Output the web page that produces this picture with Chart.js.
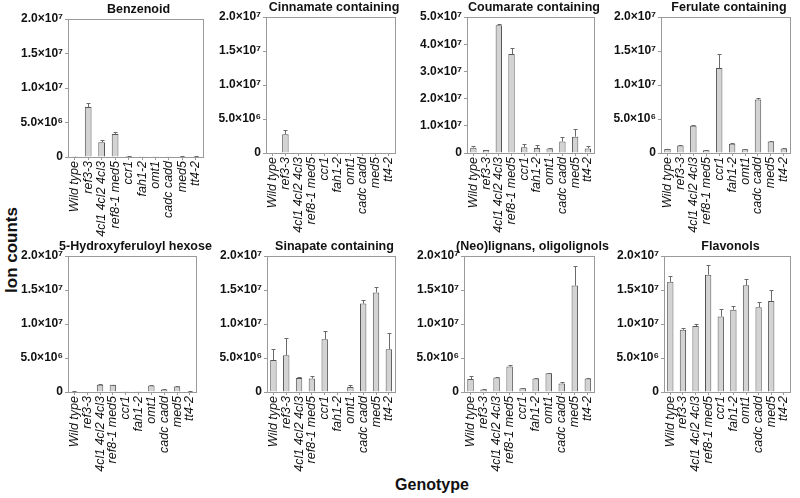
<!DOCTYPE html>
<html>
<head>
<meta charset="utf-8">
<script src="https://cdn.jsdelivr.net/npm/chart.js@4/dist/chart.umd.min.js"></script>
<style>
  html, body { margin: 0; padding: 0; background: #fff; }
  #wrap { position: relative; width: 800px; height: 498px; overflow: hidden; font-family: "Liberation Sans", Arial, sans-serif; }
  canvas { position: absolute; }
  .axt { position: absolute; font-weight: bold; color: #111; white-space: nowrap; }
  .ptitle { position: absolute; font-weight: bold; font-size: 12.5px; color: #111; white-space: nowrap; transform: translate(-50%, -50%); line-height: 1; }
</style>
</head>
<body>
<div id="wrap">
  <div class="axt" id="ylab" style="font-size:17px; left:12px; top:250px; transform: translate(-50%,-50%) rotate(-90deg);">Ion counts</div>
  <div class="axt" id="xlab" style="font-size:16px; left:432px; top:485px; transform: translate(-50%,-50%);">Genotype</div>
</div>
<script>
// ---- Data ----
const genotypes = ['Wild type', 'ref3-3', '4cl1 4cl2 4cl3', 'ref8-1 med5', 'ccr1', 'fah1-2', 'omt1', 'cadc cadd', 'med5', 'tt4-2'];

const panelTitles = ['Benzenoid', 'Cinnamate containing', 'Coumarate containing', 'Ferulate containing',
  '5-Hydroxyferuloyl hexose', 'Sinapate containing', '(Neo)lignans, oligolignols', 'Flavonols'];

const benzenoid      = [0.05e6, 7.25e6, 2.15e6, 3.35e6, 0.15e6, 0.05e6, 0.05e6, 0.05e6, 0.1e6, 0.1e6];
const benzenoidErr   = [0.02e6, 0.55e6, 0.3e6, 0.3e6, 0.05e6, 0, 0, 0, 0.05e6, 0.05e6];

const cinnamate      = [0, 2.75e6, 0, 0, 0, 0, 0, 0, 0, 0];
const cinnamateErr   = [0, 0.6e6, 0, 0, 0, 0, 0, 0, 0, 0];

const coumarate      = [1.95e6, 1.1e6, 47.0e6, 36.4e6, 2.1e6, 1.8e6, 1.7e6, 4.2e6, 6.0e6, 1.7e6];
const coumarateErr   = [0.7e6, 0.1e6, 0.5e6, 2.3e6, 1.2e6, 1.1e6, 0.25e6, 1.7e6, 2.7e6, 0.9e6];

const ferulate       = [0.6e6, 1.1e6, 4.0e6, 0.4e6, 12.5e6, 1.37e6, 0.55e6, 7.85e6, 1.7e6, 0.65e6];
const ferulateErr    = [0.05e6, 0.1e6, 0.15e6, 0.05e6, 2.0e6, 0.08e6, 0.05e6, 0.25e6, 0.08e6, 0.05e6];

const hydroxyferuloyl    = [0.1e6, 0, 1.07e6, 1.05e6, 0.05e6, 0.05e6, 0.95e6, 0.35e6, 0.8e6, 0.1e6];
const hydroxyferuloylErr = [0.02e6, 0, 0.05e6, 0.05e6, 0, 0, 0.05e6, 0.05e6, 0.1e6, 0.02e6];

const sinapate       = [4.7e6, 5.4e6, 2.06e6, 2.0e6, 7.75e6, 0, 0.73e6, 13.0e6, 14.65e6, 6.3e6];
const sinapateErr    = [1.6e6, 2.5e6, 0.1e6, 0.3e6, 1.25e6, 0, 0.27e6, 0.6e6, 0.75e6, 2.4e6];

const neolignans     = [1.9e6, 0.35e6, 2.15e6, 3.75e6, 0.55e6, 2.0e6, 2.75e6, 1.25e6, 15.65e6, 2.0e6];
const neolignansErr  = [0.5e6, 0.05e6, 0.1e6, 0.25e6, 0.05e6, 0.05e6, 0.05e6, 0.25e6, 2.95e6, 0.05e6];

const flavonols      = [16.2e6, 9.15e6, 9.7e6, 17.25e6, 11.1e6, 12.1e6, 15.7e6, 12.45e6, 13.4e6, 0];
const flavonolsErr   = [0.85e6, 0.25e6, 0.3e6, 1.45e6, 1.05e6, 0.6e6, 0.95e6, 0.75e6, 1.6e6, 0];

const yTickLabels20 = ['0', '5.0×10⁶', '1.0×10⁷', '1.5×10⁷', '2.0×10⁷'];
const yTickLabels50 = ['0', '1.0×10⁷', '2.0×10⁷', '3.0×10⁷', '4.0×10⁷', '5.0×10⁷'];
const yMax20 = 2.0e7, yStep20 = 5.0e6;
const yMax50 = 5.0e7, yStep50 = 1.0e7;

const panelValues = [benzenoid, cinnamate, coumarate, ferulate, hydroxyferuloyl, sinapate, neolignans, flavonols];
const panelErrors = [benzenoidErr, cinnamateErr, coumarateErr, ferulateErr, hydroxyferuloylErr, sinapateErr, neolignansErr, flavonolsErr];

// ---- Layout (plot-area boxes in page pixels) ----
const boxes = [
  {l: 68,  r: 209, t: 19,  b: 157, row: 0},
  {l: 266, r: 402, t: 17,  b: 153, row: 0},
  {l: 467, r: 601, t: 17,  b: 153, row: 0},
  {l: 661, r: 797, t: 17,  b: 153, row: 0},
  {l: 68,  r: 203, t: 256, b: 392, row: 1},
  {l: 267, r: 402, t: 256, b: 392, row: 1},
  {l: 464, r: 601, t: 256, b: 392, row: 1},
  {l: 664, r: 797, t: 256, b: 392, row: 1}
];

const FONT = '"Liberation Sans", Arial, sans-serif';
const AXIS_GRAY = '#9a9a9a';
const YW = 66, RPAD = 3;

const boxPlugin = {
  id: 'boxPlugin',
  afterDraw(chart) {
    const a = chart.chartArea, ctx = chart.ctx;
    ctx.save();
    ctx.strokeStyle = AXIS_GRAY;
    ctx.lineWidth = 1;
    ctx.strokeRect(Math.round(a.left) + 0.5, Math.round(a.top) + 0.5, Math.round(a.right - a.left), Math.round(a.bottom - a.top));
    ctx.restore();
  }
};

const errorBars = {
  id: 'errorBars',
  afterDatasetsDraw(chart) {
    const ctx = chart.ctx;
    const errs = chart.options.plugins.errorBars.errors;
    const ys = chart.scales.y;
    const meta = chart.getDatasetMeta(0);
    const vals = chart.data.datasets[0].data;
    ctx.save();
    ctx.strokeStyle = '#6a6a6a';
    ctx.lineWidth = 1;
    meta.data.forEach((bar, i) => {
      const e = errs[i];
      if (!e) return;
      const x = Math.round(bar.x) + 0.5;
      const y0 = ys.getPixelForValue(vals[i]);
      const y1 = Math.round(ys.getPixelForValue(vals[i] + e)) + 0.5;
      ctx.beginPath();
      ctx.moveTo(x, y0);
      ctx.lineTo(x, y1);
      ctx.moveTo(x - 2, y1);
      ctx.lineTo(x + 2, y1);
      ctx.stroke();
    });
    ctx.restore();
  }
};

const wrap = document.getElementById('wrap');

boxes.forEach((bx, i) => {
  const canvasTop = bx.row === 0 ? 0 : 236;
  const canvasH = bx.row === 0 ? 250 : 262;
  const canvasLeft = bx.l - YW;
  const canvasW = (bx.r - bx.l) + YW + RPAD;
  const xH = canvasTop + canvasH - bx.b;
  const cv = document.createElement('canvas');
  cv.width = canvasW; cv.height = canvasH;
  cv.style.left = canvasLeft + 'px';
  cv.style.top = canvasTop + 'px';
  cv.style.width = canvasW + 'px';
  cv.style.height = canvasH + 'px';
  wrap.appendChild(cv);

  const tdiv = document.createElement('div');
  tdiv.className = 'ptitle';
  tdiv.textContent = panelTitles[i];
  tdiv.style.left = ((bx.l + bx.r) / 2) + 'px';
  tdiv.style.top = (bx.t - 10) + 'px';
  wrap.appendChild(tdiv);

  const big = i === 2;
  const tickLabels = big ? yTickLabels50 : yTickLabels20;

  new Chart(cv.getContext('2d'), {
    type: 'bar',
    data: {
      labels: genotypes,
      datasets: [{
        data: panelValues[i],
        backgroundColor: '#d3d3d3',
        borderColor: '#555555',
        borderWidth: 1,
        barPercentage: 0.5,
        categoryPercentage: 1.0
      }]
    },
    options: {
      responsive: false,
      animation: false,
      devicePixelRatio: 1,
      layout: { padding: { top: bx.t - canvasTop, right: RPAD, left: 0, bottom: 0 } },
      plugins: {
        legend: { display: false },
        tooltip: { enabled: false },
        title: { display: false },
        errorBars: { errors: panelErrors[i] }
      },
      scales: {
        x: {
          offset: true,
          grid: { display: true, offset: false, drawOnChartArea: false, drawTicks: true, tickLength: 3, color: AXIS_GRAY },
          border: { display: true, color: AXIS_GRAY },
          ticks: {
            autoSkip: false, minRotation: 90, maxRotation: 90, padding: 1,
            color: '#111',
            font: { family: FONT, size: 12.5, style: 'italic' }
          },
          afterFit: (s) => { s.height = xH; }
        },
        y: {
          min: 0,
          max: big ? yMax50 : yMax20,
          grid: { display: true, drawOnChartArea: false, drawTicks: true, tickLength: 3, color: AXIS_GRAY },
          border: { display: true, color: AXIS_GRAY },
          ticks: {
            stepSize: big ? yStep50 : yStep20,
            padding: 2,
            color: '#111',
            font: { family: FONT, size: 12, weight: 'bold' },
            callback: (v, idx) => tickLabels[idx]
          },
          afterFit: (s) => { s.width = YW; }
        }
      }
    },
    plugins: [boxPlugin, errorBars]
  });
});
</script>
</body>
</html>
